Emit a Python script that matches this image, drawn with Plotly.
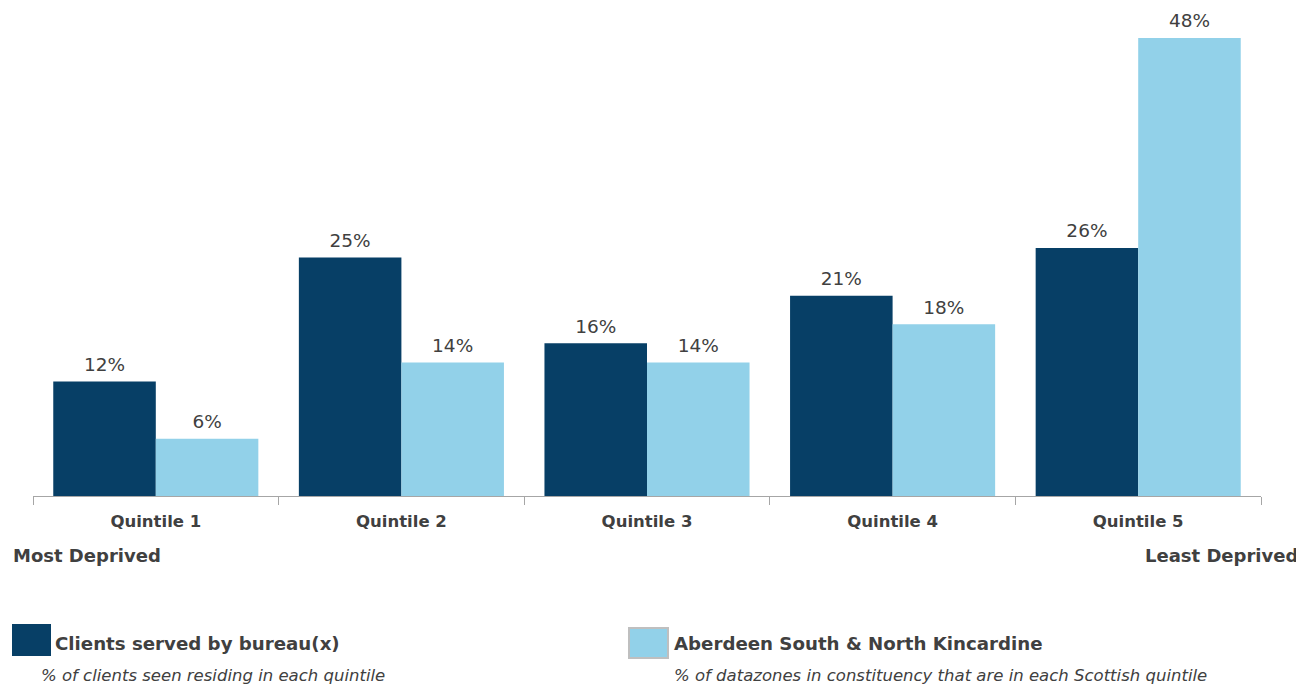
import plotly.graph_objects as go

categories = ["Quintile 1", "Quintile 2", "Quintile 3", "Quintile 4", "Quintile 5"]
clients = [12, 25, 16, 21, 26]
constituency = [6, 14, 14, 18, 48]
series_names = ["Clients served by bureau(x)", "Aberdeen South & North Kincardine"]
series_notes = ["% of clients seen residing in each quintile",
                "% of datazones in constituency that are in each Scottish quintile"]

DARK = "#073F66"
LIGHT = "#92D1E9"
TXT = "#404040"
FONT = "DejaVu Sans"

W, H = 1304, 684
OFF = 8  # page body margin
# target plot area on the page
PL, PR, PT, PB = 33, 1261, 38, 496
ML, MR, MT = PL - OFF, W - (PR - OFF), PT - OFF
MB = H - (PB - OFF)

fig = go.Figure()
for i, (vals, col, name) in enumerate([(clients, DARK, series_names[0]),
                                        (constituency, LIGHT, series_names[1])]):
    fig.add_trace(go.Bar(
        x=categories, y=vals, name=name, marker=dict(color=col, line=dict(width=0)),
        offsetgroup=str(i), showlegend=False, hoverinfo="skip",
    ))
for i, vals in enumerate([clients, constituency]):
    fig.add_trace(go.Scatter(
        x=categories, y=vals, mode="markers+text", offsetgroup=str(i),
        text=[f"{v}%" for v in vals], textposition="top center", cliponaxis=False,
        marker=dict(size=8, color="rgba(0,0,0,0)"),
        textfont=dict(family=FONT, size=18.5, color=TXT), showlegend=False,
    ))

fig.update_layout(
    width=W, height=H,
    margin=dict(l=ML, r=MR, t=MT, b=MB),
    paper_bgcolor="white", plot_bgcolor="white",
    barmode="group", bargap=0.165, bargroupgap=0,
    scattermode="group", scattergap=0.165,
    font=dict(family=FONT, color=TXT),
    xaxis=dict(showline=True, linecolor="#A6A6A6", linewidth=1,
               ticks="outside", tickson="boundaries", ticklen=8, tickcolor="#A6A6A6",
               tickfont=dict(family=FONT, size=16.5, color=TXT),
               ticklabelstandoff=10, showgrid=False,
               tickvals=categories, ticktext=[f"<b>{c}</b>" for c in categories]),
    yaxis=dict(range=[0, 48], visible=False, showgrid=False, zeroline=False),
)

def px_to_paper(x, y):
    # page pixel -> paper coords
    return (x - PL) / (PR - PL), (PB - y) / (PB - PT)

anns = [
    dict(text="<b>Most Deprived</b>", x=11, y=555, xanchor="left", size=18),
    dict(text="<b>Least Deprived</b>", x=1300, y=555, xanchor="right", size=18),
    dict(text=f"<b>{series_names[0]}</b>", x=53, y=643, xanchor="left", size=18.2),
    dict(text=f"<i>{series_notes[0]}</i>", x=39, y=675, xanchor="left", size=16.5),
    dict(text=f"<b>{series_names[1]}</b>", x=672, y=643, xanchor="left", size=18.2),
    dict(text=f"<i>{series_notes[1]}</i>", x=672, y=675, xanchor="left", size=16.5),
]
for a in anns:
    px, py = px_to_paper(a["x"], a["y"])
    fig.add_annotation(
        text=a["text"], xref="paper", yref="paper", x=px, y=py,
        xanchor=a["xanchor"], yanchor="middle", showarrow=False,
        font=dict(family=FONT, size=a["size"], color=TXT),
    )

x0, y0 = px_to_paper(12, 624); x1, y1 = px_to_paper(51, 656)
fig.add_shape(type="rect", xref="paper", yref="paper", x0=x0, y0=y1, x1=x1, y1=y0,
              fillcolor=DARK, line=dict(width=0))
x0, y0 = px_to_paper(629, 628); x1, y1 = px_to_paper(668, 658)
fig.add_shape(type="rect", xref="paper", yref="paper", x0=x0, y0=y1, x1=x1, y1=y0,
              fillcolor=LIGHT, line=dict(width=2, color="#BFBFBF"))

fig.write_html("out.html")
